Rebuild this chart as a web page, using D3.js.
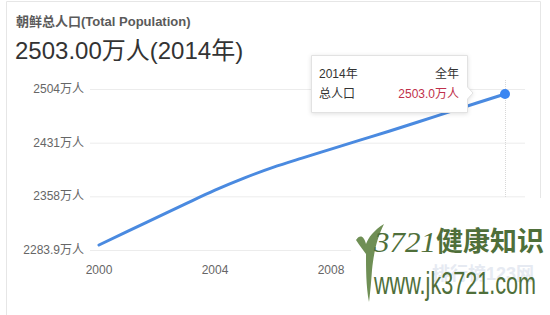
<!DOCTYPE html>
<html>
<head>
<meta charset="utf-8">
<script src="https://cdn.jsdelivr.net/npm/d3@7/dist/d3.min.js"></script>
<style>
  html, body { margin: 0; padding: 0; background: #fff; }
  svg { display: block; font-family: "Liberation Sans", Arial, "Noto Sans CJK SC", sans-serif; }
</style>
</head>
<body>
<div id="chart"></div>
<script>
// North Korea total population, 10k persons (万人)
const years = [2000, 2001, 2002, 2003, 2004, 2005, 2006, 2007, 2008, 2009, 2010, 2011, 2012, 2013, 2014];
const population = [2283.9, 2304.0, 2324.0, 2344.0, 2363.5, 2381.0, 2396.5, 2410.0, 2423.0, 2436.0, 2449.0, 2462.3, 2476.0, 2489.6, 2503.0];
const yTickLabels = ['2283.9万人', '2358万人', '2431万人', '2504万人'];
const xTicks = [2000, 2004, 2008];

const width = 550, height = 315;
const plot = { left: 90, right: 525, top: 89, bottom: 250 };

const svg = d3.select('#chart')
    .append('svg')
    .attr('width', width)
    .attr('height', height);

// card border
svg.append('path')
    .attr('d', 'M6.5,' + height + 'V1.5H540.5V' + height)
    .attr('fill', 'none')
    .attr('stroke', '#e6e6e6');

// header
svg.append('text')
    .attr('x', 16).attr('y', 26)
    .attr('font-size', 13).attr('font-weight', 'bold')
    .attr('fill', '#5a5a5a')
    .text('朝鲜总人口(Total Population)');

svg.append('text')
    .attr('x', 15).attr('y', 59)
    .attr('font-size', 24)
    .attr('fill', '#333')
    .text('2503.00万人(2014年)');

// scales
const x = d3.scaleLinear().domain(d3.extent(years)).range([99, 505]);
const yGrid = d3.scalePoint().domain(yTickLabels).range([plot.bottom, plot.top]);
const y = d3.scaleLinear().domain(d3.extent(population)).range([plot.bottom - 5, plot.top + 5]);

// grid + y labels
const gy = svg.append('g');
gy.selectAll('line')
    .data(yTickLabels)
    .join('line')
    .attr('x1', plot.left).attr('x2', plot.right)
    .attr('y1', d => yGrid(d) + 0.5).attr('y2', d => yGrid(d) + 0.5)
    .attr('stroke', '#ececec');
gy.selectAll('text')
    .data(yTickLabels)
    .join('text')
    .attr('x', 84).attr('y', d => yGrid(d) + 4)
    .attr('text-anchor', 'end')
    .attr('font-size', 12)
    .attr('fill', '#666')
    .text(d => d);

// x labels
svg.append('g').selectAll('text')
    .data(xTicks)
    .join('text')
    .attr('x', d => x(d)).attr('y', 274)
    .attr('text-anchor', 'middle')
    .attr('font-size', 12)
    .attr('fill', '#666')
    .text(d => d);

// hover guide at last point
const last = years.length - 1;
svg.append('line')
    .attr('x1', x(years[last]) + 0.5).attr('x2', x(years[last]) + 0.5)
    .attr('y1', 80).attr('y2', plot.bottom + 10)
    .attr('stroke', '#d8d8d8')
    .attr('stroke-dasharray', '1,1');

// line
const line = d3.line()
    .x((d, i) => x(years[i]))
    .y(d => y(d))
    .curve(d3.curveMonotoneX);

svg.append('path')
    .datum(population)
    .attr('d', line)
    .attr('fill', 'none')
    .attr('stroke', '#4a8ae0')
    .attr('stroke-width', 3)
    .attr('stroke-linecap', 'round');

svg.append('circle')
    .attr('cx', x(years[last])).attr('cy', y(population[last]))
    .attr('r', 5)
    .attr('fill', '#3a86f2');

// tooltip
const tip = svg.append('g').attr('transform', 'translate(311,55)');
tip.append('path')
    .attr('d', 'M0.5,0.5H156.5V32L162,38L156.5,44V57.5H0.5Z')
    .attr('fill', '#fff')
    .attr('stroke', '#e2e2e2')
    .style('filter', 'drop-shadow(0 1px 2px rgba(0,0,0,0.12))');
tip.append('text').attr('x', 8).attr('y', 23).attr('font-size', 12).attr('fill', '#333')
    .text(years[last] + '年');
tip.append('text').attr('x', 148).attr('y', 23).attr('font-size', 12).attr('fill', '#333')
    .attr('text-anchor', 'end').text('全年');
tip.append('text').attr('x', 8).attr('y', 43).attr('font-size', 12).attr('fill', '#333')
    .text('总人口');
tip.append('text').attr('x', 148).attr('y', 43).attr('font-size', 12).attr('fill', '#c0304a')
    .attr('text-anchor', 'end').text(population[last].toFixed(1) + '万人');

// watermark
const wm = svg.append('g');
wm.append('rect')
    .attr('x', 351).attr('y', 198).attr('width', 200).attr('height', 120)
    .attr('fill', '#fff');
wm.append('text')
    .attr('x', 432).attr('y', 280)
    .attr('font-size', 18).attr('font-weight', 'bold')
    .attr('fill', '#e6eaf2')
    .text('排行榜123网');
wm.append('path')
    .attr('d', 'M356,240C360,234 364,236 366,244C368,238 374,230 384,224C378,236 374,250 372,270C371,284 370,294 369,302C366,286 366,268 366,254C363,250 360,246 356,240Z')
    .attr('fill', '#6f8f55');
wm.append('text')
    .attr('x', 374).attr('y', 252)
    .attr('font-size', 30).attr('font-style', 'italic')
    .attr('font-family', '"Liberation Serif", serif')
    .attr('fill', '#4f6f3a')
    .attr('textLength', 62).attr('lengthAdjust', 'spacingAndGlyphs')
    .text('3721');
wm.append('text')
    .attr('x', 436).attr('y', 251)
    .attr('font-size', 27).attr('font-weight', 'bold')
    .attr('font-family', '"Noto Sans CJK SC", sans-serif')
    .attr('fill', '#4f6f3a')
    .attr('textLength', 108).attr('lengthAdjust', 'spacingAndGlyphs')
    .text('健康知识');
wm.append('text')
    .attr('x', 374).attr('y', 294)
    .attr('font-size', 31)
    .attr('fill', '#4f6f3a')
    .attr('textLength', 162).attr('lengthAdjust', 'spacingAndGlyphs')
    .text('www.jk3721.com');
</script>
</body>
</html>
